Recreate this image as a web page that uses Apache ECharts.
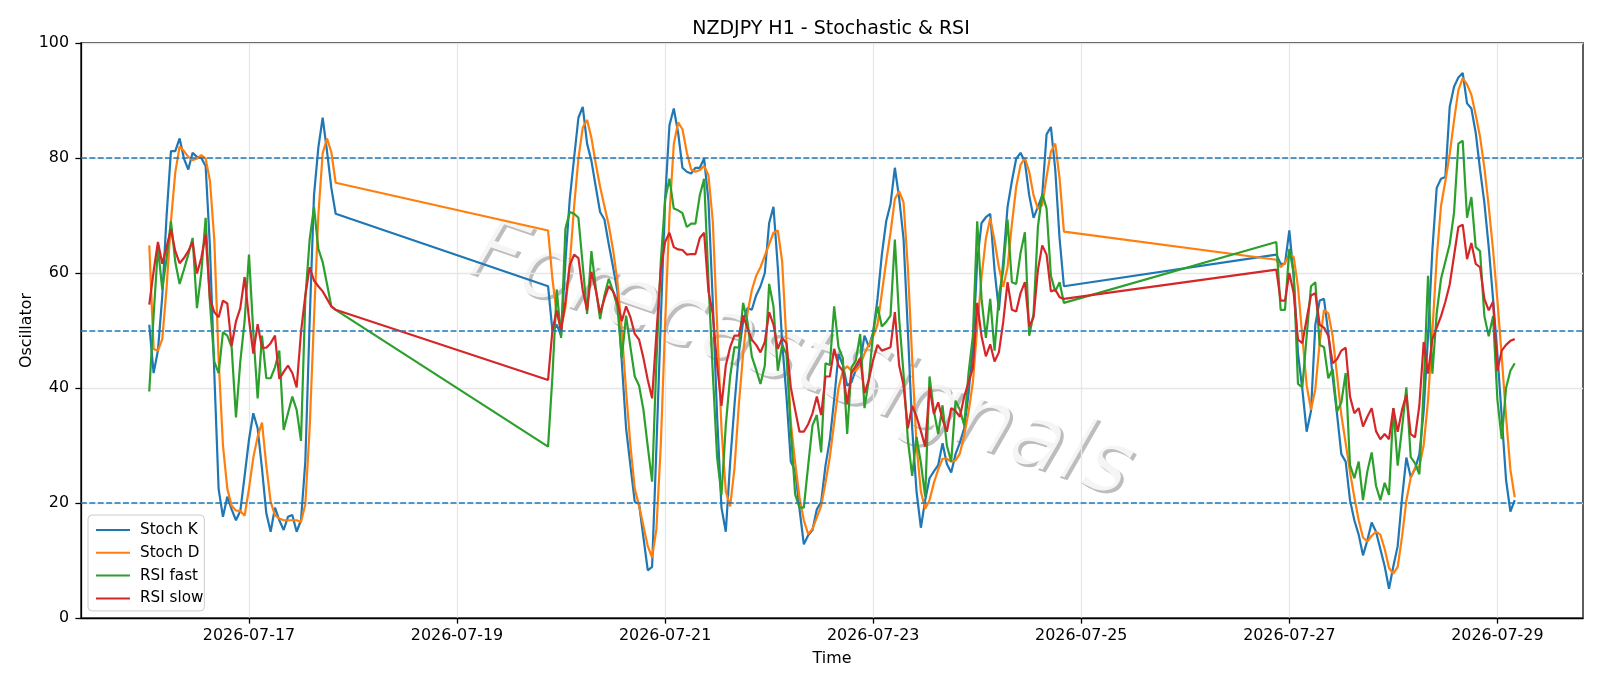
<!DOCTYPE html>
<html>
<head>
<meta charset="utf-8">
<title>NZDJPY H1 - Stochastic & RSI</title>
<script src="https://cdn.jsdelivr.net/npm/echarts@6/dist/echarts.min.js"></script>
<style>
  html, body { margin: 0; padding: 0; background: #fff; }
  #main { width: 1600px; height: 686px; }
</style>
</head>
<body>
<div id="main"></div>
<script>
// hourly bars, three trading blocks (weekend gaps in between)
const segments = [
  { start: '2026-07-16 01:00', count: 44 },
  { start: '2026-07-19 21:00', count: 120 },
  { start: '2026-07-26 21:00', count: 56 }
];

const tickLabels = ['2026-07-17', '2026-07-19', '2026-07-21', '2026-07-23', '2026-07-25', '2026-07-27', '2026-07-29'];
const levels = [20, 50, 80];

const stochK = [
  // 07-16 01:00 .. 07-17 20:00
  51.0, 42.6, 46.5, 56.0, 70.0, 81.2, 81.2, 83.4, 79.9, 78.0,
  80.9, 80.2, 80.0, 78.6, 64.5, 42.6, 22.4, 17.6, 21.1, 18.9,
  17.0, 18.6, 24.7, 31.0, 35.6, 33.0, 26.0, 18.2, 15.0, 19.2,
  17.0, 15.3, 17.6, 17.9, 15.0, 17.0, 27.2, 51.6, 73.5, 81.8,
  87.0, 81.2, 74.8, 70.3,
  // 07-19 21:00 .. 07-24 20:00
  57.7, 50.0, 51.0, 49.1, 62.0, 72.8, 80.0, 87.0, 88.9, 82.5,
  79.5, 75.0, 70.6, 69.3, 65.0, 61.0, 56.8, 44.6, 33.0, 26.5,
  20.2, 19.8, 14.0, 8.3, 8.9, 29.8, 51.6, 72.8, 85.7, 88.6,
  84.4, 78.3, 77.6, 77.3, 78.3, 78.3, 79.9, 72.5, 55.0, 35.0,
  19.2, 15.0, 27.0, 37.0, 46.0, 51.6, 53.9, 53.6, 56.1, 57.7,
  60.0, 68.7, 71.5, 61.0, 48.0, 38.5, 27.2, 25.6, 19.0, 12.8,
  14.4, 15.3, 18.9, 20.2, 26.5, 31.0, 38.0, 45.9, 44.0, 40.4,
  41.0, 43.2, 44.5, 49.1, 47.2, 49.7, 55.5, 63.2, 69.0, 72.0,
  78.3, 73.0, 66.0, 50.0, 33.0, 22.0, 15.7, 20.5, 24.3, 25.5,
  26.6, 30.4, 26.8, 25.3, 28.5, 30.5, 33.0, 39.0, 47.0, 62.0,
  68.7, 69.7, 70.3, 60.5, 53.5, 62.0, 71.5, 76.0, 79.9, 80.9,
  79.3, 73.5, 69.6, 71.5, 73.5, 84.1, 85.4, 78.0, 66.0, 57.7,
  // 07-26 21:00 .. 07-29 04:00
  63.2, 61.6, 61.6, 67.4, 59.5, 46.0, 39.8, 32.4, 36.0, 51.0,
  55.2, 55.5, 49.5, 42.0, 35.5, 28.5, 27.2, 20.5, 17.0, 14.5,
  10.9, 13.5, 16.6, 15.0, 12.0, 9.0, 5.1, 9.0, 12.5, 20.8,
  27.9, 24.5, 25.9, 28.5, 36.0, 49.0, 64.0, 74.8, 76.4, 76.7,
  88.9, 92.4, 94.0, 94.8, 89.5, 88.6, 84.4, 78.0, 72.2, 64.5,
  55.5, 45.9, 35.0, 24.0, 18.5, 20.5
];

const stochD = [
  64.8, 46.8, 46.5, 48.5, 57.5, 69.0, 77.5, 82.0, 81.2, 80.2,
  79.6, 79.9, 80.5, 79.9, 76.0, 65.8, 45.0, 30.0, 22.5, 19.5,
  18.7, 18.6, 17.8, 22.5, 27.9, 31.5, 34.0, 26.5, 20.2, 17.9,
  17.3, 17.0, 17.0, 17.0, 17.0, 16.7, 19.8, 33.0, 52.0, 70.0,
  80.8, 83.4, 81.0, 75.7,

  67.4, 59.0, 52.9, 50.5, 54.0, 61.5, 71.5, 79.9, 85.3, 86.6,
  83.5, 79.0, 75.0, 71.6, 68.3, 64.0, 58.5, 50.0, 39.5, 30.0,
  22.5, 19.5, 16.0, 12.5, 10.5, 15.5, 30.0, 51.0, 70.0, 82.4,
  86.2, 85.0, 81.0, 78.0, 77.6, 77.9, 78.6, 77.0, 69.0, 51.0,
  33.0, 22.0, 19.4, 26.0, 37.0, 46.0, 53.0, 57.0, 59.5, 61.0,
  63.0, 65.0, 67.0, 67.4, 62.0, 48.0, 34.0, 27.0, 21.0, 17.0,
  14.6, 15.5, 17.5, 19.5, 23.5, 28.0, 34.0, 40.0, 43.0, 43.8,
  43.0, 43.0, 44.0, 46.0, 47.5, 49.0, 51.0, 56.5, 62.0, 67.0,
  72.9, 74.2, 72.3, 61.0, 45.0, 30.0, 22.0, 19.0, 20.5, 23.5,
  25.8, 27.7, 27.7, 27.2, 27.4, 28.6, 31.8, 35.8, 41.0, 50.5,
  59.3, 66.0, 69.5, 65.6, 61.0, 57.6, 61.0, 68.5, 75.0, 78.8,
  80.0, 77.6, 73.5, 71.2, 71.8, 76.7, 81.1, 82.5, 76.5, 67.2,

  62.3, 61.0, 61.8, 63.3, 62.8, 57.6, 49.0, 40.5, 36.2, 39.8,
  47.8, 53.6, 53.0, 49.0, 42.3, 35.3, 30.4, 25.4, 21.0, 17.0,
  14.0, 13.3, 14.3, 15.0, 14.5, 12.0, 8.7, 7.7, 8.9, 14.1,
  20.4, 24.4, 26.1, 26.3, 30.1, 37.8, 49.7, 62.6, 71.7, 76.0,
  80.7, 86.5, 91.8, 93.9, 92.8, 91.0, 87.5, 83.7, 78.3, 71.6,
  64.0, 55.3, 45.5, 35.0, 25.8, 21.0
];

const rsiFast = [
  39.4, 52.6, 64.5, 57.1, 62.6, 69.0, 61.9, 58.1, 60.6, 63.2,
  66.1, 53.9, 60.0, 69.6, 54.8, 44.6, 42.6, 49.7, 49.1, 47.1,
  34.9, 44.6, 51.7, 63.2, 49.7, 38.2, 49.1, 41.7, 41.7, 43.6,
  46.5, 32.7, 35.6, 38.5, 36.2, 30.8, 55.5, 65.8, 71.5, 64.2,
  61.9, 58.1, 54.2, 53.6,

  29.8, 42.0, 57.1, 48.7, 67.7, 70.6, 70.3, 69.6, 61.3, 52.9,
  63.8, 57.4, 52.0, 56.1, 59.0, 56.8, 54.2, 45.2, 52.6, 47.1,
  42.0, 40.4, 36.2, 29.8, 23.7, 44.6, 61.9, 72.8, 76.4, 71.2,
  70.9, 70.4, 68.0, 68.6, 68.6, 73.5, 76.4, 58.7, 42.6, 27.9,
  21.4, 33.5, 42.0, 47.1, 47.0, 54.8, 51.5, 45.5, 43.2, 40.7,
  43.9, 58.1, 54.2, 43.0, 47.5, 45.9, 32.5, 21.5, 19.2, 19.2,
  26.5, 33.5, 35.3, 28.8, 44.3, 44.0, 54.2, 47.1, 45.2, 32.0,
  43.6, 44.8, 49.4, 36.5, 41.5, 49.7, 54.2, 50.7, 51.5, 52.6,
  65.8, 52.0, 42.5, 31.0, 24.7, 31.5, 27.0, 21.1, 42.0, 36.0,
  32.0, 37.0, 30.0, 27.2, 37.8, 36.2, 33.5, 42.6, 49.0, 69.0,
  55.5, 48.7, 55.5, 46.5, 56.0, 60.5, 69.3, 58.4, 58.1, 63.5,
  67.1, 49.1, 52.9, 68.0, 73.8, 71.2, 59.5, 56.8, 58.4, 54.8,

  65.4, 53.6, 53.6, 64.2, 60.0, 40.7, 40.1, 49.0, 57.7, 58.4,
  47.5, 47.1, 41.7, 43.3, 35.9, 37.5, 42.6, 26.6, 24.3, 27.2,
  20.5, 25.5, 28.8, 23.0, 20.5, 23.5, 21.4, 36.5, 26.5, 33.0,
  40.1, 28.0, 26.9, 25.0, 40.0, 59.5, 42.5, 53.0, 59.0, 62.0,
  65.0, 70.5, 82.5, 83.0, 69.6, 73.2, 64.5, 63.8, 52.5, 49.0,
  52.5, 38.0, 31.1, 40.0, 43.0, 44.3
];

const rsiSlow = [
  54.5, 60.3, 65.4, 61.6, 64.5, 67.6, 63.8, 61.7, 62.6, 63.8,
  65.4, 59.9, 62.6, 66.7, 55.5, 53.2, 52.3, 55.2, 54.7, 47.3,
  51.6, 53.9, 59.3, 52.0, 46.0, 51.1, 47.0, 47.0, 47.8, 49.1,
  41.6, 42.8, 43.9, 42.6, 40.1, 49.7, 56.1, 61.0, 58.7, 57.7,
  56.8, 55.5, 54.2, 53.6,

  41.4, 50.0, 53.5, 50.0, 55.0, 61.3, 63.2, 62.6, 57.0, 53.5,
  60.2, 57.0, 53.0, 55.5, 57.7, 56.8, 55.0, 51.6, 54.2, 52.3,
  49.4, 48.4, 45.2, 41.4, 38.2, 49.5, 60.6, 65.4, 67.0, 64.5,
  64.1, 64.0, 63.2, 63.3, 63.3, 66.1, 67.0, 56.8, 52.9, 44.0,
  36.9, 43.9, 47.1, 49.1, 49.1, 52.6, 50.4, 48.4, 47.5, 46.2,
  48.0, 53.2, 51.0, 46.8, 48.7, 47.8, 40.1, 36.2, 32.4, 32.4,
  33.7, 35.6, 38.5, 35.3, 42.0, 42.0, 46.8, 43.9, 43.0, 37.2,
  42.6, 43.9, 45.2, 39.1, 41.4, 44.9, 47.5, 46.5, 46.8, 47.1,
  53.2, 43.9, 40.5, 33.0, 36.9, 35.0, 32.5, 29.8, 40.1, 35.5,
  37.5, 34.5, 32.4, 36.5, 36.0, 35.0, 38.5, 41.0, 43.5, 54.8,
  49.0, 45.5, 47.6, 44.6, 46.2, 51.5, 58.4, 53.6, 53.3, 56.5,
  58.4, 50.7, 52.3, 60.5, 64.8, 63.2, 56.8, 57.1, 55.8, 55.5,

  60.6, 55.2, 55.2, 60.0, 56.5, 48.4, 47.8, 52.0, 56.1, 56.5,
  51.0, 50.5, 49.1, 44.3, 45.0, 46.5, 47.0, 38.5, 35.6, 36.5,
  33.3, 35.0, 36.5, 32.5, 31.1, 32.0, 31.1, 36.5, 32.4, 36.2,
  38.8, 32.0, 31.4, 37.0, 48.0, 42.5, 48.5, 50.5, 52.5, 55.0,
  58.0, 63.0, 68.0, 68.4, 62.4, 65.2, 61.6, 61.0, 55.5, 53.5,
  55.0, 43.0, 46.5, 47.5, 48.2, 48.5
];

// local-time parse of 'YYYY-MM-DD HH:mm'
function parseTime(s) {
  const [d, t] = s.split(' ');
  const [y, m, day] = d.split('-').map(Number);
  const [hh, mm] = (t || '00:00').split(':').map(Number);
  return new Date(y, m - 1, day, hh, mm).getTime();
}

const HOUR = 3600 * 1000;
const times = [];
segments.forEach((seg) => {
  const t0 = parseTime(seg.start);
  for (let i = 0; i < seg.count; i++) times.push(t0 + i * HOUR);
});

const pair = (vals) => times.map((t, i) => [t, vals[i]]);
const tickValues = tickLabels.map((d) => parseTime(d));

// matplotlib keeps 5% padding on each side of the data span
const span = times[times.length - 1] - times[0];
const xMin = times[0] - span * 0.05;
const xMax = times[times.length - 1] + span * 0.05;

const pad2 = (n) => (n < 10 ? '0' + n : '' + n);
const fmtDate = (v) => {
  const d = new Date(v);
  return d.getFullYear() + '-' + pad2(d.getMonth() + 1) + '-' + pad2(d.getDate());
};

const FONT = 'DejaVu Sans';
const FS = 15.9;
const lineSeries = (name, vals, color) => ({
  name,
  type: 'line',
  data: pair(vals),
  showSymbol: false,
  symbol: 'none',
  lineStyle: { color, width: 2.2 },
  itemStyle: { color },
  z: 3
});

const chart = echarts.init(document.getElementById('main'), null, { renderer: 'canvas' });

const k = lineSeries('Stoch K', stochK, '#1f77b4');
k.markLine = {
  silent: true,
  symbol: ['none', 'none'],
  label: { show: false },
  lineStyle: { color: '#1f77b4', type: [5.9, 2.5], width: 1.5 },
  data: levels.map((v) => ({ yAxis: v }))
};

chart.setOption({
  animation: false,
  backgroundColor: '#ffffff',
  textStyle: { fontFamily: FONT },
  title: {
    text: 'NZDJPY H1 - Stochastic & RSI',
    left: 826,
    top: 15,
    textAlign: 'center',
    textStyle: { fontFamily: FONT, fontSize: 19, fontWeight: 'normal', color: '#000' }
  },
  grid: {
    left: 81, right: 17, top: 43, bottom: 68,
    show: true, borderColor: '#000', borderWidth: 1.27, backgroundColor: 'transparent'
  },
  legend: {
    data: ['Stoch K', 'Stoch D', 'RSI fast', 'RSI slow'],
    orient: 'vertical',
    left: 88,
    top: 515,
    itemWidth: 34,
    itemHeight: 16,
    itemGap: 7.8,
    padding: [7.5, 1, 5, 7],
    itemStyle: { opacity: 0 },
    backgroundColor: 'rgba(255,255,255,0.8)',
    borderColor: '#cccccc',
    borderWidth: 1,
    borderRadius: 4,
    textStyle: { fontFamily: FONT, fontSize: 15.2, color: '#000', padding: [0, 0, 0, 5] }
  },
  xAxis: {
    type: 'value',
    min: xMin,
    max: xMax,
    name: 'Time',
    nameLocation: 'middle',
    nameGap: 33,
    nameTextStyle: { fontFamily: FONT, fontSize: FS, color: '#000' },
    axisLine: { show: true, lineStyle: { color: '#000', width: 1.27 } },
    axisTick: { show: true, length: 5.6, customValues: tickValues, lineStyle: { color: '#000', width: 1.27 } },
    axisLabel: {
      customValues: tickValues,
      formatter: (v) => fmtDate(v),
      margin: 10,
      fontFamily: FONT,
      fontSize: FS,
      color: '#000'
    },
    splitLine: { show: true, lineStyle: { color: '#e6e6e6', width: 1.27 } }
  },
  yAxis: {
    type: 'value',
    min: 0,
    max: 100,
    interval: 20,
    name: 'Oscillator',
    nameLocation: 'middle',
    nameGap: 46,
    nameMoveOverlap: false,
    nameTextStyle: { fontFamily: FONT, fontSize: FS, color: '#000' },
    axisLine: { show: true, lineStyle: { color: '#000', width: 1.27 } },
    axisTick: { show: true, length: 5.6, lineStyle: { color: '#000', width: 1.27 } },
    axisLabel: { margin: 12, fontFamily: FONT, fontSize: FS, color: '#000' },
    splitLine: { show: true, lineStyle: { color: '#e6e6e6', width: 1.27 } }
  },
  graphic: [{
    type: 'text',
    x: 800,
    y: 362,
    rotation: -19 * Math.PI / 180,
    z: 0,
    silent: true,
    style: {
      text: 'ForecastSignals',
      align: 'center',
      verticalAlign: 'middle',
      font: 'oblique 88px "DejaVu Sans"',
      fill: 'rgba(255,255,255,0.85)',
      textShadowColor: 'rgba(0,0,0,0.3)',
      textShadowOffsetX: 3,
      textShadowOffsetY: 3,
      textShadowBlur: 0.5
    }
  }],
  series: [
    k,
    lineSeries('Stoch D', stochD, '#ff7f0e'),
    lineSeries('RSI fast', rsiFast, '#2ca02c'),
    lineSeries('RSI slow', rsiSlow, '#d62728')
  ]
});
</script>
</body>
</html>
